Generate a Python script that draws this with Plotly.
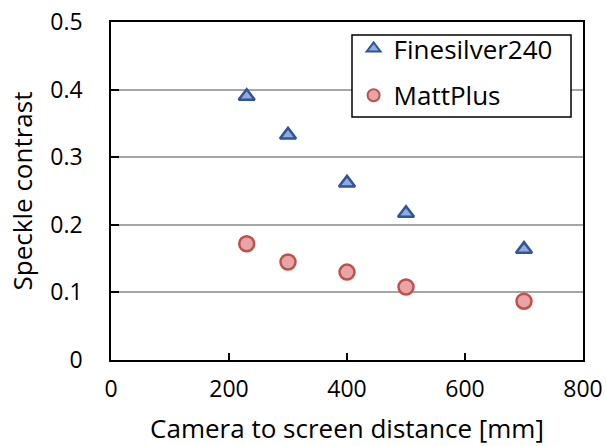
import plotly.graph_objects as go

distance = [230, 300, 400, 500, 700]
finesilver = [0.390, 0.333, 0.262, 0.217, 0.164]
mattplus = [0.172, 0.145, 0.130, 0.108, 0.087]
x_ticks = [0, 200, 400, 600, 800]
y_ticks = [0, 0.1, 0.2, 0.3, 0.4, 0.5]

font_family = "Open Sans, Lato, sans-serif"
FS = 23
FT = 26

fig = go.Figure()
fig.add_trace(go.Scatter(
    x=distance, y=finesilver, mode="markers", name="Finesilver240",
    legendgroup="a",
    marker=dict(symbol="triangle-up", size=14, color="#8FAADC",
                line=dict(color="#2F5597", width=2.5)),
))
fig.add_trace(go.Scatter(
    x=distance, y=mattplus, mode="markers", name="MattPlus",
    legendgroup="b",
    marker=dict(symbol="circle", size=15, color="#E8A5A5",
                line=dict(color="#C0504D", width=2.5)),
))

# legend frame (white box covering gridlines)
fig.add_shape(type="rect", xref="paper", yref="paper",
              x0=0.5106, x1=0.9746, y0=0.719, y1=0.9615,
              line=dict(color="black", width=1.5), fillcolor="white", layer="above")

fig.update_layout(
    width=606, height=446,
    margin=dict(l=111, r=23, t=22, b=86, autoexpand=False),
    paper_bgcolor="white", plot_bgcolor="white",
    font=dict(family=font_family, size=FS, color="black"),
    showlegend=True,
    legend=dict(x=0.514, y=0.991, xanchor="left", yanchor="top",
                borderwidth=0, bgcolor="rgba(0,0,0,0)",
                font=dict(size=FT), itemsizing="constant", tracegroupgap=10),
)
fig.update_xaxes(
    range=[0, 800], tickvals=x_ticks, ticktext=[str(v) for v in x_ticks],
    showline=True, linecolor="black", linewidth=1.5, mirror=True,
    ticks="inside", ticklen=7, tickcolor="black", tickwidth=1.5,
    showgrid=False, zeroline=False, ticklabelstandoff=8, automargin=False,
    title=dict(text="Camera to screen distance [mm]", font=dict(size=FT), standoff=21),
    tickfont=dict(size=FS),
)
fig.update_yaxes(
    range=[0, 0.5], tickvals=y_ticks, ticktext=["0", "0.1", "0.2", "0.3", "0.4", "0.5"],
    showline=True, linecolor="black", linewidth=1.5, mirror=True,
    ticks="inside", ticklen=8, tickcolor="black", tickwidth=1.5,
    showgrid=True, gridcolor="#A6A6A6", gridwidth=1.5, zeroline=False,
    ticklabelstandoff=22, automargin=False,
    title=dict(text="Speckle contrast", font=dict(size=FT), standoff=10),
    tickfont=dict(size=FS),
)

fig.write_html("out.html")
